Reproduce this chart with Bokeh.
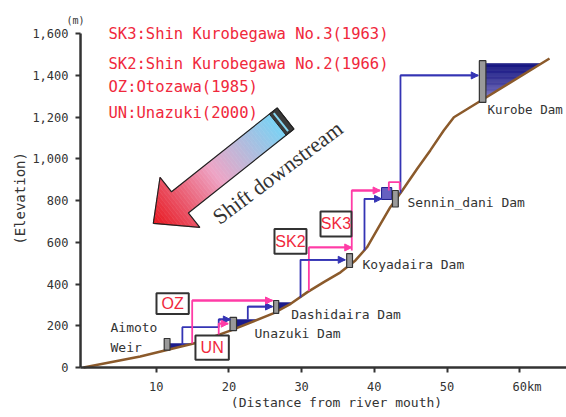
import math
import numpy as np
from bokeh.plotting import figure
from bokeh.models import Range1d, FixedTicker, NumeralTickFormatter, Label, Arrow, NormalHead
from bokeh.embed import file_html
from bokeh.resources import INLINE

# ---------------- data ----------------
profile_km = [0, 7.8, 15.7, 20.2, 26.1, 28.5, 30.8, 33.05, 35.35, 37.4, 39.0, 40.6, 42.2,
              43.85, 45.9, 47.7, 49.55, 50.95, 54.7, 64.1]
profile_elev = [0, 53, 120, 177, 259, 305, 361, 409, 456, 513, 576, 672, 768,
                848, 952, 1040, 1135, 1199, 1279, 1480]

dam_names = ["Aimoto Weir", "Unazuki Dam", "Dashidaira Dam", "Koyadaira Dam", "Sennin_dani Dam", "Kurobe Dam"]
dam_km = [11.5, 20.6, 26.5, 36.6, 42.9, 54.9]
dam_base = [83, 177, 259, 479, 769, 1270]
dam_top = [139, 240, 321, 546, 848, 1470]

res_dam_km = [11.5, 20.6, 26.5]
res_level = [115, 230, 311]
kurobe_level = 1456
sennin_box = [41.0, 42.4, 805, 862]  # left, right, bottom, top

# waterway routes (km, elevation)
blue_routes = [
    ([13.6, 13.6, 18.6, 18.6, 20.2], [108, 193, 193, 230, 230]),
    ([22.6, 22.6, 26.0], [230, 292, 292]),
    ([29.85, 29.85, 36.0], [335, 516, 516]),
    ([38.65, 38.65, 41.0], [560, 808, 808]),
    ([43.6, 43.6, 54.3], [835, 1399, 1399]),
]
pink_routes = [
    ([14.95, 14.95, 26.0], [115, 321, 321]),
    ([18.6, 18.6, 19.9], [153, 210, 210]),
    ([31.0, 31.0, 36.9], [366, 575, 575]),
    ([36.9, 36.9, 40.8], [560, 848, 848]),
]
pink_small = ([42.0, 42.0, 43.5, 43.5], [848, 888, 888, 852])

box_names = ["OZ", "UN", "SK2", "SK3"]
box_left = [10.04, 15.4, 26.27, 32.6]
box_right = [14.48, 19.99, 30.67, 36.86]
box_bottom = [256, 37, 545, 628]
box_top = [356, 153, 664, 747]

legend_lines = ["SK3:Shin Kurobegawa No.3(1963)", "SK2:Shin Kurobegawa No.2(1966)",
                "OZ:Otozawa(1985)", "UN:Unazuki(2000)"]
legend_elev = [1600, 1456, 1346, 1217]

y_ticks = [0, 200, 400, 600, 800, 1000, 1200, 1400, 1600]
x_ticks = [10, 20, 30, 40, 50, 60]
x_axis_at = -0.41   # km where the elevation axis stands
y_top = 1600        # top of the elevation axis

# ---------------- figure ----------------
W, H = 566, 417
x_start, x_end = -11.417, 66.437
y_start, y_end = -239.5, 1758.1
SX = W / (x_end - x_start)
SY = H / (y_end - y_start)

p = figure(width=W, height=H, x_range=Range1d(x_start, x_end), y_range=Range1d(y_start, y_end),
           output_backend="svg", toolbar_location=None, title=None,
           min_border_left=0, min_border_right=0, min_border_top=0, min_border_bottom=0)
p.grid.visible = False
p.outline_line_color = None
p.background_fill_color = "white"
p.border_fill_color = "white"

AX = "#333333"
for ax in (p.xaxis[0], p.yaxis[0]):
    ax.axis_line_color = None
    ax.major_tick_line_color = AX
    ax.major_tick_line_width = 2
    ax.major_tick_in = 0
    ax.major_tick_out = 5
    ax.minor_tick_line_color = None
    ax.major_label_text_font = "DejaVu Sans Mono"
    ax.major_label_text_font_size = "12px"
    ax.major_label_text_color = AX
p.yaxis.fixed_location = x_axis_at
p.xaxis.fixed_location = 0
p.yaxis.ticker = FixedTicker(ticks=y_ticks)
p.yaxis.formatter = NumeralTickFormatter(format="0,0")
p.yaxis.major_label_standoff = 7
p.xaxis.ticker = FixedTicker(ticks=x_ticks)
p.xaxis.major_label_overrides = {60: "\u00a0\u00a060km"}
p.xaxis.major_label_standoff = 7

# ---------------- reservoirs ----------------
def km_at(e):
    return float(np.interp(e, profile_elev, profile_km))

def elev_at(k):
    return float(np.interp(k, profile_km, profile_elev))

rx, ry = [], []
for dk, lv in zip(res_dam_km, res_level):
    k2 = km_at(lv)
    ks = [k for k in profile_km if dk < k < k2]
    xs = [dk, k2] + ks[::-1] + [dk]
    ys = [lv, lv] + [elev_at(k) for k in ks[::-1]] + [elev_at(dk)]
    rx.append(xs)
    ry.append(ys)
p.patches(rx, ry, fill_color="#1c1c8c", line_color="#1c1c8c", line_width=0.5)

# Kurobe reservoir with vertical gradient
kd = dam_km[5]
e_bot = elev_at(kd)
n_band = 30
bx, by, bc = [], [], []
top_c = np.array([22, 22, 130])
bot_c = np.array([185, 175, 232])
for i in range(n_band):
    e0 = e_bot + (kurobe_level - e_bot) * i / n_band
    e1 = e_bot + (kurobe_level - e_bot) * (i + 1) / n_band
    bx.append([kd, kd, km_at(e1), km_at(e0)])
    by.append([e0, e1, e1, e0])
    t = ((i + 0.5) / n_band) ** 0.45
    c = (bot_c + (top_c - bot_c) * t).astype(int)
    bc.append("#%02x%02x%02x" % tuple(c))
p.patches(bx, by, fill_color=bc, line_color=bc, line_width=0.6)

# Sennin-dani small pond box
sl, sr, sb, st = sennin_box
p.quad(left=[sl], right=[sr], bottom=[sb], top=[st], fill_color="#6660c0", line_color="#1c1c8c", line_width=1)

# ---------------- profile ----------------
p.line(profile_km, profile_elev, line_color="#8B5A2B", line_width=2.5)

# ---------------- dams ----------------
half = [0.4, 0.45, 0.35, 0.4, 0.4, 0.45]
p.quad(left=[k - h for k, h in zip(dam_km, half)], right=[k + h for k, h in zip(dam_km, half)],
       bottom=dam_base, top=dam_top, fill_color="#9a9a9a", line_color="#333333", line_width=1.2)

# ---------------- routes ----------------
BLUE = "#3434b4"
PINK = "#ff3ca6"
for xs, ys in blue_routes:
    p.line(xs, ys, line_color=BLUE, line_width=1.8)
    p.add_layout(Arrow(x_start=xs[-2], y_start=ys[-2], x_end=xs[-1], y_end=ys[-1],
                       line_color=BLUE, line_width=1.8,
                       end=NormalHead(size=7, fill_color=BLUE, line_color=BLUE)))
for xs, ys in pink_routes:
    p.line(xs, ys, line_color=PINK, line_width=1.8)
    p.add_layout(Arrow(x_start=xs[-2], y_start=ys[-2], x_end=xs[-1], y_end=ys[-1],
                       line_color=PINK, line_width=1.8,
                       end=NormalHead(size=7, fill_color=PINK, line_color=PINK)))
p.line(pink_small[0], pink_small[1], line_color=PINK, line_width=1.8)

# ---------------- boxes ----------------
p.quad(left=box_left, right=box_right, bottom=box_bottom, top=box_top,
       fill_color="white", line_color="#333333", line_width=2)
RED = "#f0283c"
for nm, l, r, b, t in zip(box_names, box_left, box_right, box_bottom, box_top):
    p.add_layout(Label(x=(l + r) / 2, y=(b + t) / 2, text=nm, text_font="Liberation Sans",
                       text_font_size="16px", text_color=RED, text_align="center", text_baseline="middle"))

# ---------------- big arrow ----------------
ARROW_TAIL = (27.8, 1193)
ARROW_TIP = (9.6, 690)
HEAD_LEN, HEAD_HALF, SHAFT_HALF, CAP_LEN = 34, 32, 13.5, 10
tu, tv = ARROW_TIP[0] * SX, ARROW_TIP[1] * SY
au, av = ARROW_TAIL[0] * SX, ARROW_TAIL[1] * SY
L = math.hypot(au - tu, av - tv)
du, dv = (au - tu) / L, (av - tv) / L
nu, nv = -dv, du

def pt(s, n):
    return ((tu + s * du + n * nu) / SX, (tv + s * dv + n * nv) / SY)

stops = [(0.0, (232, 22, 30)), (0.5, (238, 165, 198)), (1.0, (122, 210, 244))]

def grad(t):
    for (t0, c0), (t1, c1) in zip(stops[:-1], stops[1:]):
        if t <= t1:
            f = (t - t0) / (t1 - t0)
            return "#%02x%02x%02x" % tuple(int(c0[i] + (c1[i] - c0[i]) * f) for i in range(3))
    return "#%02x%02x%02x" % stops[-1][1]

body_end = L - CAP_LEN
head_edges = list(np.linspace(0, HEAD_LEN, 12))
shaft_edges = list(np.linspace(HEAD_LEN, body_end, 41))
gx, gy, gc = [], [], []
for i in range(len(head_edges) - 1):
    s0, s1 = head_edges[i], head_edges[i + 1]
    w0, w1 = HEAD_HALF * s0 / HEAD_LEN, HEAD_HALF * s1 / HEAD_LEN
    pts = [pt(s0, -w0), pt(s1, -w1), pt(s1, w1), pt(s0, w0)]
    gx.append([q[0] for q in pts]); gy.append([q[1] for q in pts])
    gc.append(grad((s0 + s1) / 2 / body_end))
for i in range(len(shaft_edges) - 1):
    s0, s1 = shaft_edges[i], shaft_edges[i + 1]
    pts = [pt(s0, -SHAFT_HALF), pt(s1, -SHAFT_HALF), pt(s1, SHAFT_HALF), pt(s0, SHAFT_HALF)]
    gx.append([q[0] for q in pts]); gy.append([q[1] for q in pts])
    gc.append(grad((s0 + s1) / 2 / body_end))
p.patches(gx, gy, fill_color=gc, line_color=gc, line_width=0.6)

cap = [pt(body_end, -SHAFT_HALF), pt(L, -SHAFT_HALF), pt(L, SHAFT_HALF), pt(body_end, SHAFT_HALF)]
p.patch([q[0] for q in cap], [q[1] for q in cap], fill_color="#3a3a3a", line_color="#222222", line_width=1)
stripe = [pt(L - 7, -SHAFT_HALF + 2), pt(L - 5, -SHAFT_HALF + 2), pt(L - 5, SHAFT_HALF - 2), pt(L - 7, SHAFT_HALF - 2)]
p.patch([q[0] for q in stripe], [q[1] for q in stripe], fill_color="#86d6f2", line_color=None)

outline = [pt(0, 0), pt(HEAD_LEN, HEAD_HALF), pt(HEAD_LEN, SHAFT_HALF), pt(L, SHAFT_HALF),
           pt(L, -SHAFT_HALF), pt(HEAD_LEN, -SHAFT_HALF), pt(HEAD_LEN, -HEAD_HALF), pt(0, 0)]
p.line([q[0] for q in outline], [q[1] for q in outline], line_color="#222222", line_width=1.2)

p.add_layout(Label(x=26.7, y=934, text="Shift downstream", text_font="Liberation Serif",
                   text_font_size="22px", text_color="#333333", angle=36.9, angle_units="deg",
                   text_align="center", text_baseline="middle"))

# ---------------- axis lines ----------------
p.line([x_axis_at, x_axis_at], [0, y_top], line_color=AX, line_width=2.5)
p.line([x_axis_at, x_end], [0, 0], line_color=AX, line_width=2.5)

# ---------------- texts ----------------
MONO = "DejaVu Sans Mono"
for txt, e in zip(legend_lines, legend_elev):
    p.add_layout(Label(x=3.44, y=e, text=txt, text_font=MONO, text_font_size="15.5px",
                       text_color=RED, text_baseline="middle"))

dam_text = [("Aimoto", 3.71, 193, "13px"), ("Weir", 3.71, 97, "13px"), ("Unazuki Dam", 23.52, 163, "13px"),
            ("Dashidaira Dam", 28.57, 254, "13px"), ("Koyadaira Dam", 38.38, 493, "13px"),
            ("Sennin_dani Dam", 44.57, 792, "13px"), ("Kurobe Dam", 55.57, 1236, "12.5px")]
for txt, x, y, fs in dam_text:
    p.add_layout(Label(x=x, y=y, text=txt, text_font=MONO, text_font_size=fs,
                       text_color="#333333", text_baseline="middle"))

p.add_layout(Label(x=-1.1, y=1662, text="(m)", text_font=MONO, text_font_size="10px",
                   text_color="#333333", text_align="center", text_baseline="middle"))
p.add_layout(Label(x=-8.8, y=810, text="(Elevation)", text_font=MONO, text_font_size="14px",
                   text_color="#333333", text_align="center", text_baseline="middle", angle=90, angle_units="deg"))
p.add_layout(Label(x=34.8, y=-168, text="(Distance from river mouth)", text_font=MONO, text_font_size="13px",
                   text_color="#333333", text_align="center", text_baseline="middle"))

open("out.html", "w").write(file_html(p, INLINE))
